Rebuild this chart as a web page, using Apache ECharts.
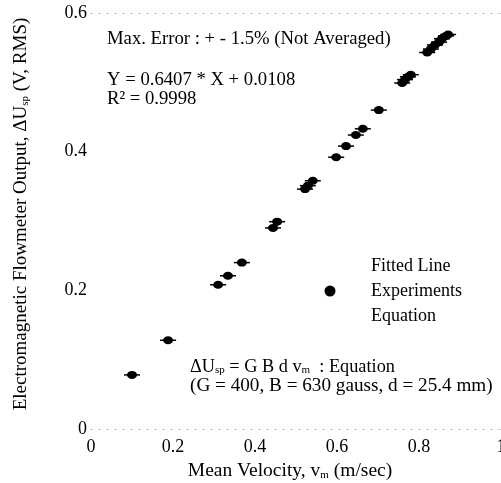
<!DOCTYPE html>
<html>
<head>
<meta charset="utf-8">
<script src="https://cdn.jsdelivr.net/npm/echarts@6/dist/echarts.min.js"></script>
<style>
  html, body { margin: 0; padding: 0; background: #fff; }
  #chart { width: 501px; height: 483px; }
</style>
</head>
<body>
<div id="chart"></div>
<script>
// mean velocity v_m (m/sec) and flowmeter output ΔU_sp (V, RMS)
const velocity = [0.100, 0.188, 0.310, 0.334, 0.368, 0.444, 0.454, 0.522, 0.529, 0.541,
  0.598, 0.622, 0.646, 0.663, 0.702, 0.759, 0.766, 0.773, 0.780,
  0.820, 0.829, 0.839, 0.849, 0.856, 0.866, 0.871];
const output = [0.078, 0.128, 0.208, 0.221, 0.240, 0.290, 0.299, 0.346, 0.351, 0.358,
  0.392, 0.408, 0.424, 0.433, 0.460, 0.499, 0.504, 0.508, 0.511,
  0.543, 0.548, 0.554, 0.558, 0.563, 0.567, 0.569];

const legendNames = ["Fitted Line", "Experiments", "Equation"];
const noteLines = [
  "Max. Error : + - 1.5% (Not Averaged)",
  "Y = 0.6407 * X + 0.0108",
  "R\u00b2 = 0.9998"
];

const font = "Liberation Serif";
const points = velocity.map((v, i) => [v, output[i]]);
const dotted = { color: "#aaa", type: [1, 7], width: 1 };
const subStyle = { fontFamily: font, fontSize: 11, verticalAlign: "bottom", color: "#000" };

const chart = echarts.init(document.getElementById("chart"));

chart.setOption({
  animation: false,
  backgroundColor: "#fff",
  textStyle: { fontFamily: font, color: "#000" },
  grid: { left: 91, right: 0, top: 13, bottom: 54, outerBoundsMode: "none" },
  xAxis: [
    {
      type: "value",
      min: 0,
      max: 1,
      interval: 0.2,
      name: "Mean Velocity, v{sub|m} (m/sec)",
      nameLocation: "middle",
      nameGap: 28,
      nameTextStyle: { fontFamily: font, fontSize: 19.5, color: "#000", padding: [0, 12, 0, 0], rich: { sub: subStyle } },
      axisLine: { show: true, lineStyle: dotted },
      axisTick: { show: false },
      splitLine: { show: false },
      axisLabel: { color: "#000", fontFamily: font, fontSize: 18, margin: 9 }
    },
    {
      type: "value",
      position: "top",
      min: 0,
      max: 1,
      axisLine: { show: true, lineStyle: dotted },
      axisTick: { show: false },
      axisLabel: { show: false },
      splitLine: { show: false }
    }
  ],
  yAxis: {
    type: "value",
    min: 0,
    max: 0.6,
    interval: 0.2,
    name: "Electromagnetic Flowmeter Output, \u0394U{sub|sp} (V, RMS)",
    nameLocation: "middle",
    nameRotate: 90,
    nameGap: 60,
    nameTextStyle: { fontFamily: font, fontSize: 19, color: "#000", padding: [0, 0, 0, 14], rich: { sub: subStyle } },
    axisLine: { show: false },
    axisTick: { show: false },
    splitLine: { show: false },
    axisLabel: { color: "#000", fontFamily: font, fontSize: 18, margin: 4 }
  },
  legend: {
    orient: "vertical",
    left: 294,
    top: 257,
    padding: 0,
    itemWidth: 72,
    itemHeight: 11,
    itemGap: 7,
    textStyle: { fontFamily: font, fontSize: 18, color: "#000" },
    data: [
      { name: legendNames[0], icon: "none" },
      { name: legendNames[1], icon: "circle" },
      { name: legendNames[2], icon: "none" }
    ]
  },
  series: [
    { name: legendNames[0], type: "line", data: [], showSymbol: false },
    {
      name: legendNames[1],
      type: "scatter",
      data: points,
      symbol: "circle",
      symbolSize: [10, 8],
      itemStyle: { color: "#000", opacity: 1 },
      z: 3
    },
    {
      name: "whiskers",
      type: "scatter",
      data: points,
      symbol: "rect",
      symbolSize: [16, 1.5],
      itemStyle: { color: "#000", opacity: 1 },
      silent: true,
      z: 2
    },
    { name: legendNames[2], type: "line", data: [], showSymbol: false }
  ],
  graphic: [
    {
      type: "text",
      left: 107,
      top: 30,
      style: { text: noteLines[0], font: "18.7px " + font, fill: "#000" }
    },
    {
      type: "text",
      left: 107,
      top: 71,
      style: { text: noteLines[1], font: "18.7px " + font, fill: "#000" }
    },
    {
      type: "text",
      left: 107,
      top: 90,
      style: { text: noteLines[2], font: "18.7px " + font, fill: "#000" }
    },
    {
      type: "text",
      left: 190,
      top: 358,
      style: {
        text: "\u0394U{sub|sp} = G B d v{sub|m}  : Equation",
        font: "18.3px " + font,
        fill: "#000",
        rich: { sub: { font: "11px " + font, verticalAlign: "bottom", fill: "#000" } }
      }
    },
    {
      type: "text",
      left: 190,
      top: 376,
      style: { text: "(G = 400, B = 630 gauss, d = 25.4 mm)", font: "19.2px " + font, fill: "#000" }
    }
  ]
});
</script>
</body>
</html>
